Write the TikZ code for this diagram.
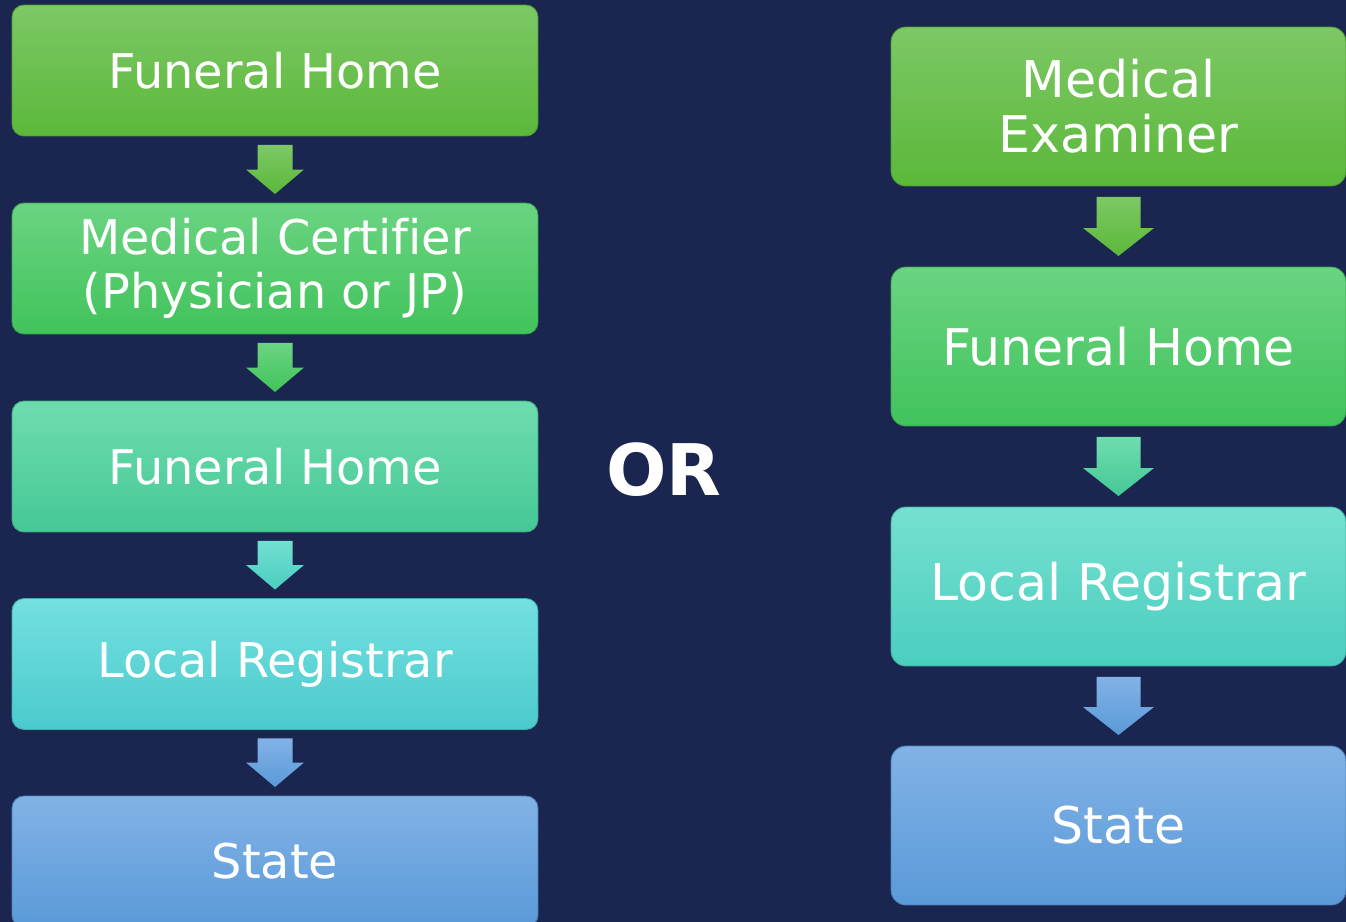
\documentclass[tikz,border=0pt]{standalone}
\usepackage{fontspec}
\setmainfont[Ligatures=NoCommon]{DejaVu Sans}
\usetikzlibrary{calc}

\definecolor{navy}{HTML}{1A2550}
\definecolor{greenA}{HTML}{7DC865}
\definecolor{greenB}{HTML}{5BB83A}
\definecolor{greenC}{HTML}{6BD482}
\definecolor{greenD}{HTML}{41C35B}
\definecolor{mintA}{HTML}{6FDCAE}
\definecolor{mintB}{HTML}{45C896}
\definecolor{cyanA}{HTML}{74E0E0}
\definecolor{cyanB}{HTML}{4BCACD}
\definecolor{tealA}{HTML}{76E0D0}
\definecolor{tealB}{HTML}{4ACEC0}
\definecolor{blueA}{HTML}{82B2E6}
\definecolor{blueB}{HTML}{5A9AD8}

% block arrow between two boxes: from, to, half shaft, half head, head length, gap, shading
\newcommand{\flowarrow}[7]{%
  \shade[#7]
    ($(#1.south)+(-#3,#6)$) -- ($(#1.south)+(#3,#6)$)
    -- ($(#2.north)+(#3,-#6-#5)$) -- ($(#2.north)+(#4,-#6-#5)$)
    -- ($(#2.north)+(0,-#6)$)
    -- ($(#2.north)+(-#4,-#6-#5)$) -- ($(#2.north)+(-#3,-#6-#5)$) -- cycle;
}

\begin{document}
\begin{tikzpicture}[x=0.02cm, y=-0.02cm,
  box/.style = {rectangle, outer sep=0pt, inner sep=0pt, align=center,
    text=white, line width=0.5pt},
  leftbox/.style = {box, rounded corners=0.24cm, minimum width=10.52cm,
    minimum height=2.62cm, font=\fontsize{27.2}{31}\selectfont},
  rightbox/.style = {box, rounded corners=0.3cm, minimum width=9.1cm,
    minimum height=3.18cm, font=\fontsize{28.8}{31.4}\selectfont},
  shgreen/.style = {top color=greenA, bottom color=greenB, draw=greenB!85!black},
  shgreen2/.style = {top color=greenC, bottom color=greenD, draw=greenD!85!black},
  shmint/.style = {top color=mintA, bottom color=mintB, draw=mintB!85!black},
  shcyan/.style = {top color=cyanA, bottom color=cyanB, draw=cyanB!85!black},
  shteal/.style = {top color=tealA, bottom color=tealB, draw=tealB!85!black},
  shblue/.style = {top color=blueA, bottom color=blueB, draw=blueB!85!black}]

\clip (0,0) rectangle (1346,922);
\fill[navy] (0,0) rectangle (1346,922);

% left chain
\node[leftbox, shgreen] (lfh) at (275,70.5) {Funeral Home};
\node[leftbox, shgreen2] (lmc) at (275,268.5) {Medical Certifier\\(Physician or JP)};
\node[leftbox, shmint] (lfh2) at (275,466.5) {Funeral Home};
\node[leftbox, shcyan] (llr) at (275,664) {Local Registrar};
\node[leftbox, shblue] (lst) at (275,861.5) {State};

\flowarrow{lfh}{lmc}{17.5}{29}{24.5}{9}{top color=greenA, bottom color=greenB}
\flowarrow{lmc}{lfh2}{17.5}{29}{24.5}{9}{top color=greenC, bottom color=greenD}
\flowarrow{lfh2}{llr}{17.5}{29}{24.5}{9}{top color=cyanA!70!mintA, bottom color=tealB}
\flowarrow{llr}{lst}{17.5}{29}{24.5}{9}{top color=blueA, bottom color=blueB}

% or
\node[text=white, font=\fontsize{40.5}{42}\selectfont\bfseries] (or) at (664,470) {OR};

% right chain
\node[rightbox, shgreen] (rme) at (1118.5,106.5) {Medical\\Examiner};
\node[rightbox, shgreen2] (rfh) at (1118.5,346.5) {Funeral Home};
\node[rightbox, shteal] (rlr) at (1118.5,586.5) {Local Registrar};
\node[rightbox, shblue] (rst) at (1118.5,825.5) {State};

\flowarrow{rme}{rfh}{22}{35.5}{28}{11}{top color=greenA, bottom color=greenB}
\flowarrow{rfh}{rlr}{22}{35.5}{28}{11}{top color=mintA, bottom color=mintB}
\flowarrow{rlr}{rst}{22}{35.5}{28}{11}{top color=blueA, bottom color=blueB}

\end{tikzpicture}
\end{document}
